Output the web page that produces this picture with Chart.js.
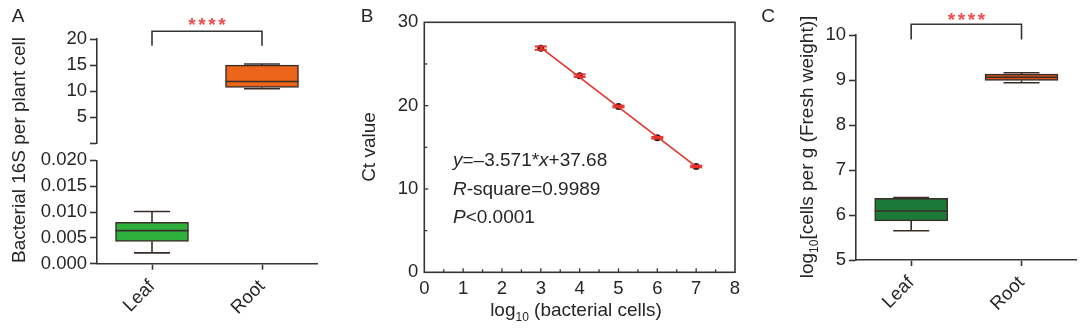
<!DOCTYPE html>
<html>
<head>
<meta charset="utf-8">
<script src="https://cdn.jsdelivr.net/npm/chart.js@4.4.1/dist/chart.umd.min.js"></script>
<style>
  body { margin: 0; background: #fff; }
  #wrap { position: relative; width: 1080px; height: 331px; background: #fff; }
  #wrap canvas { position: absolute; left: 0; top: 0; }
</style>
</head>
<body>
<div id="wrap">
  <canvas id="aTop" width="1080" height="331"></canvas>
  <canvas id="aBottom" width="1080" height="331"></canvas>
  <canvas id="chartB" width="1080" height="331"></canvas>
  <canvas id="chartC" width="1080" height="331"></canvas>
</div>
<script>
const groups = ['Leaf', 'Root'];

// A: bacterial 16S per plant cell, box stats per group
const aMin = [0.0021, 10.45];
const aQ1 = [0.0043, 10.7];
const aMedian = [0.0064, 11.85];
const aQ3 = [0.0080, 15.0];
const aMax = [0.0101, 15.2];
const aUpperTicks = [0, 5, 10, 15, 20];
const aLowerTicks = [0, 0.005, 0.010, 0.015, 0.020];

// B: standard curve
const logCells = [3, 4, 5, 6, 7];
const ctValue = [26.9, 23.6, 19.9, 16.15, 12.7];
const ctSd = [0.2, 0.15, 0.1, 0.1, 0.1];
const fitX = [3, 7];
const fitY = [26.97, 12.68];
const bXTicks = [0, 1, 2, 3, 4, 5, 6, 7, 8];
const bYTicks = [0, 10, 20, 30];

// C: log10 cells per g fresh weight, box stats per group
const cMin = [5.65, 8.94];
const cQ1 = [5.87, 8.99];
const cMedian = [6.09, 9.06];
const cQ3 = [6.37, 9.13];
const cMax = [6.39, 9.16];
const cTicks = [5, 6, 7, 8, 9, 10];

const W = 1080, H = 331;
const FONT = "Arial, 'Liberation Sans', sans-serif";
const col = {
  leafA: '#2eb03d', rootA: '#ec651b', leafC: '#1b7a38', rootC: '#d8561b',
  edge: '#3a2d28', axis: '#353535', text: '#262626', stars: '#f04f4f',
  fit: '#e8322c', point: '#1c1c1c'
};

Chart.defaults.font.family = FONT;
Chart.defaults.font.size = 18.5;
Chart.defaults.color = col.text;
Chart.defaults.animation = false;
Chart.defaults.plugins.legend.display = false;
Chart.defaults.plugins.tooltip.enabled = false;

// place the chart area exactly: left, top, right, bottom in page pixels
function pad(l, t, r, b, yw, xh) {
  return { padding: { left: l - yw, top: t, right: W - r, bottom: H - b - xh } };
}
const fixW = w => s => { s.width = w; };
const fixH = h => s => { s.height = h; s.paddingLeft = 0; s.paddingRight = 0; };
const useTicks = arr => s => { s.ticks = arr.map(v => ({ value: v })); };

function line(ctx, x1, y1, x2, y2) {
  ctx.beginPath(); ctx.moveTo(x1, y1); ctx.lineTo(x2, y2); ctx.stroke();
}

// parts: [text, style] with style '' | 'i' | 'sub'
function richText(ctx, parts, x, y, size, align, rot) {
  ctx.save();
  ctx.translate(x, y);
  if (rot) ctx.rotate(rot);
  const fontOf = p => (p[1] === 'i' ? 'italic ' : '') + (p[1] === 'sub' ? Math.round(size * 0.62) : size) + 'px ' + FONT;
  let total = 0;
  parts.forEach(p => { ctx.font = fontOf(p); total += ctx.measureText(p[0]).width; });
  let cx = align === 'center' ? -total / 2 : 0;
  ctx.fillStyle = col.text;
  ctx.textAlign = 'left';
  ctx.textBaseline = 'alphabetic';
  parts.forEach(p => {
    ctx.font = fontOf(p);
    ctx.fillText(p[0], cx, p[1] === 'sub' ? size * 0.28 : 0);
    cx += ctx.measureText(p[0]).width;
  });
  ctx.restore();
}

function letter(ctx, t, x, y) {
  ctx.save();
  ctx.font = '19px ' + FONT;
  ctx.fillStyle = col.text;
  ctx.textAlign = 'center';
  ctx.textBaseline = 'middle';
  ctx.fillText(t, x, y);
  ctx.restore();
}

function bracket(chart, top, leg, starsAt) {
  const { ctx, scales: { x, y } } = chart;
  const x1 = x.getPixelForValue(0), x2 = x.getPixelForValue(1);
  const yt = y.getPixelForValue(top), yl = y.getPixelForValue(leg);
  ctx.save();
  ctx.strokeStyle = col.axis;
  ctx.lineWidth = 1.6;
  ctx.beginPath();
  ctx.moveTo(x1, yl); ctx.lineTo(x1, yt); ctx.lineTo(x2, yt); ctx.lineTo(x2, yl);
  ctx.stroke();
  ctx.fillStyle = col.stars;
  ctx.font = 'bold 19px ' + FONT;
  ctx.textAlign = 'center';
  ctx.textBaseline = 'alphabetic';
  const ys = y.getPixelForValue(starsAt) + 11;
  const mid = (x1 + x2) / 2;
  for (let k = 0; k < 4; k++) ctx.fillText('*', mid + (k - 1.5) * 10, ys);
  ctx.restore();
}

// whiskers, caps and median line on top of the floating bars
const boxWhiskers = {
  id: 'boxWhiskers',
  afterDatasetsDraw(chart, args, o) {
    const { ctx, scales: { x, y } } = chart;
    const meta = chart.getDatasetMeta(0);
    ctx.save();
    ctx.strokeStyle = col.edge;
    ctx.lineWidth = 1.6;
    groups.forEach((g, i) => {
      if (!o.show(i)) return;
      const cx = x.getPixelForValue(i);
      const half = meta.data[i].width / 2;
      const py = v => y.getPixelForValue(v);
      line(ctx, cx - half, py(o.median[i]), cx + half, py(o.median[i]));
      line(ctx, cx, py(o.q3[i]), cx, py(o.max[i]));
      line(ctx, cx, py(o.q1[i]), cx, py(o.min[i]));
      line(ctx, cx - 18, py(o.max[i]), cx + 18, py(o.max[i]));
      line(ctx, cx - 18, py(o.min[i]), cx + 18, py(o.min[i]));
    });
    ctx.restore();
  }
};

const A_BREAK = 0.02;
const inLower = i => aQ3[i] <= A_BREAK;

const axisGrid = len => ({
  display: true, drawOnChartArea: false, offset: false,
  tickLength: len, tickColor: col.axis, tickWidth: 1.6
});
const axisBorder = { display: true, color: col.axis, width: 1.6 };
const rotated = { minRotation: 45, maxRotation: 45, autoSkip: false, padding: 6 };

// ---------- A, upper segment ----------
new Chart(document.getElementById('aTop'), {
  type: 'bar',
  data: {
    labels: groups,
    datasets: [{
      data: groups.map((g, i) => inLower(i) ? null : [aQ1[i], aQ3[i]]),
      backgroundColor: [col.leafA, col.rootA],
      borderColor: col.edge, borderWidth: 1.5, borderSkipped: false, barThickness: 73
    }]
  },
  options: {
    responsive: false,
    layout: pad(97, 39, 317, 143.3, 70, 0),
    scales: {
      x: { display: false },
      y: {
        min: 0, max: 20,
        afterBuildTicks: useTicks(aUpperTicks),
        afterFit: fixW(70),
        ticks: { padding: 3, callback: v => v === 0 ? '' : v },
        grid: axisGrid(7), border: axisBorder
      }
    },
    plugins: {
      boxWhiskers: { show: i => !inLower(i), min: aMin, q1: aQ1, median: aMedian, q3: aQ3, max: aMax }
    }
  },
  plugins: [boxWhiskers, {
    id: 'aDecor',
    afterDraw(chart) {
      const { ctx } = chart;
      letter(ctx, 'A', 18, 17);
      richText(ctx, [['Bacterial 16S per plant cell', '']], 25, 150, 19, 'center', -Math.PI / 2);
      bracket(chart, 21.5, 18.7, 23.7);
    }
  }]
});

// ---------- A, lower segment ----------
new Chart(document.getElementById('aBottom'), {
  type: 'bar',
  data: {
    labels: groups,
    datasets: [{
      data: groups.map((g, i) => inLower(i) ? [aQ1[i], aQ3[i]] : null),
      backgroundColor: [col.leafA, col.rootA],
      borderColor: col.edge, borderWidth: 1.5, borderSkipped: false, barThickness: 73
    }]
  },
  options: {
    responsive: false,
    layout: pad(97, 160.3, 317, 263.7, 70, 60),
    scales: {
      x: {
        afterFit: fixH(60),
        ticks: rotated,
        grid: axisGrid(6), border: axisBorder
      },
      y: {
        min: 0, max: A_BREAK,
        afterBuildTicks: useTicks(aLowerTicks),
        afterFit: fixW(70),
        ticks: { padding: 3, callback: v => v.toFixed(3) },
        grid: axisGrid(7), border: axisBorder
      }
    },
    plugins: {
      boxWhiskers: { show: i => inLower(i), min: aMin, q1: aQ1, median: aMedian, q3: aQ3, max: aMax }
    }
  },
  plugins: [boxWhiskers]
});

// ---------- B ----------
new Chart(document.getElementById('chartB'), {
  type: 'scatter',
  data: {
    datasets: [{
      type: 'line',
      data: fitX.map((v, i) => ({ x: v, y: fitY[i] })),
      borderColor: col.fit, borderWidth: 1.6, pointRadius: 0
    }, {
      data: logCells.map((v, i) => ({ x: v, y: ctValue[i] })),
      pointRadius: 3.5, backgroundColor: col.point, borderWidth: 0
    }]
  },
  options: {
    responsive: false,
    layout: pad(424.3, 22.3, 735, 272.3, 60, 50),
    scales: {
      x: {
        type: 'linear', min: 0, max: 8,
        afterBuildTicks: useTicks(bXTicks),
        afterFit: fixH(50),
        ticks: { padding: 6 },
        grid: { display: false, drawTicks: false }, border: { display: false }
      },
      y: {
        min: 0, max: 30,
        afterBuildTicks: useTicks(bYTicks),
        afterFit: fixW(60),
        ticks: { padding: 6 },
        grid: { display: false, drawTicks: false }, border: { display: false }
      }
    }
  },
  plugins: [{
    id: 'bDecor',
    afterDatasetsDraw(chart) {
      const { ctx, scales: { x, y } } = chart;
      ctx.save();
      ctx.strokeStyle = col.fit;
      ctx.lineWidth = 2;
      logCells.forEach((v, i) => {
        const px = x.getPixelForValue(v);
        const y1 = y.getPixelForValue(ctValue[i] + ctSd[i]);
        const y2 = y.getPixelForValue(ctValue[i] - ctSd[i]);
        line(ctx, px, y1, px, y2);
        line(ctx, px - 6, y1, px + 6, y1);
        line(ctx, px - 6, y2, px + 6, y2);
      });
      ctx.restore();
    },
    afterDraw(chart) {
      const { ctx, chartArea: a, scales: { x, y } } = chart;
      ctx.save();
      ctx.strokeStyle = col.axis;
      ctx.lineWidth = 1.6;
      ctx.strokeRect(a.left, a.top, a.right - a.left, a.bottom - a.top);
      ctx.lineWidth = 1.3;
      for (let v = 0.5; v < 8; v += 0.5) {
        const px = x.getPixelForValue(v);
        line(ctx, px, a.bottom, px, a.bottom - (v % 1 ? 3 : 4));
      }
      for (let v = 5; v < 30; v += 5) {
        const py = y.getPixelForValue(v);
        line(ctx, a.left, py, a.left + (v % 10 ? 3 : 4), py);
      }
      ctx.restore();
      letter(ctx, 'B', 367, 17);
      richText(ctx, [['Ct value', '']], 375, 147, 19, 'center', -Math.PI / 2);
      richText(ctx, [['log', ''], ['10', 'sub'], [' (bacterial cells)', '']], 576, 316, 19, 'center');
      richText(ctx, [['y', 'i'], ['=\u20133.571*', ''], ['x', 'i'], ['+37.68', '']], 453, 166, 19, 'left');
      richText(ctx, [['R', 'i'], ['-square=0.9989', '']], 453, 195, 19, 'left');
      richText(ctx, [['P', 'i'], ['<0.0001', '']], 453, 223, 19, 'left');
    }
  }]
});

// ---------- C ----------
new Chart(document.getElementById('chartC'), {
  type: 'bar',
  data: {
    labels: groups,
    datasets: [{
      data: groups.map((g, i) => [cQ1[i], cQ3[i]]),
      backgroundColor: [col.leafC, col.rootC],
      borderColor: col.edge, borderWidth: 1.5, borderSkipped: false, barThickness: 73
    }]
  },
  options: {
    responsive: false,
    layout: pad(856, 35, 1076.7, 260, 60, 60),
    scales: {
      x: {
        afterFit: fixH(60),
        ticks: rotated,
        grid: axisGrid(6), border: axisBorder
      },
      y: {
        min: 5, max: 10,
        afterBuildTicks: useTicks(cTicks),
        afterFit: fixW(60),
        ticks: { padding: 3 },
        grid: axisGrid(7), border: axisBorder
      }
    },
    plugins: {
      boxWhiskers: { show: () => true, min: cMin, q1: cQ1, median: cMedian, q3: cQ3, max: cMax }
    }
  },
  plugins: [boxWhiskers, {
    id: 'cDecor',
    afterDraw(chart) {
      const { ctx } = chart;
      letter(ctx, 'C', 768, 17);
      richText(ctx, [['log', ''], ['10', 'sub'], ['[cells per g (Fresh weight)]', '']], 813, 147, 19, 'center', -Math.PI / 2);
      bracket(chart, 10.24, 9.9, 10.44);
    }
  }]
});
</script>
</body>
</html>
